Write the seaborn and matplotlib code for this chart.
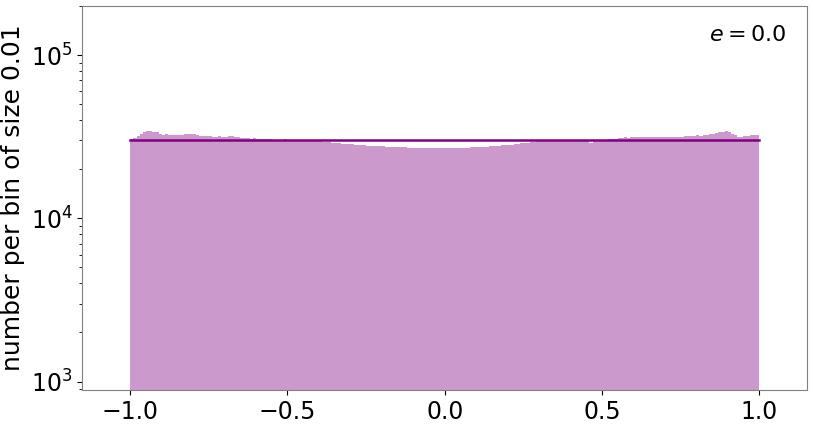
import numpy as np
import matplotlib
matplotlib.use("Agg")
import matplotlib.pyplot as plt
import seaborn as sns

# histogram of cos(theta) style values, 200 bins of width 0.01 on [-1, 1]
n_bins = 200
bin_centers = np.linspace(-0.995, 0.995, n_bins)

counts = [
    30500, 31200, 31900, 33000, 33800, 34500, 34300, 34000, 33600, 33000,
    32600, 32700, 32500, 32400, 32600, 32300, 32500, 32800, 33000, 32900,
    32700, 32400, 32100, 31900, 32000, 31800, 31700, 31600, 31800, 31500,
    31600, 31800, 31900, 31700, 31400, 31200, 31000, 30900, 30800, 30900,
    30700, 30600, 30700, 30500, 30600, 30400, 30400, 30300, 30400, 30500,
    30300, 30200, 30300, 30200, 30100, 30000, 30100, 30000, 29800, 29700,
    29600, 29400, 29300, 29200, 29000, 28900, 28800, 28700, 28600, 28500,
    28400, 28300, 28200, 28100, 28000, 27900, 27800, 27700, 27700, 27600,
    27600, 27500, 27400, 27400, 27300, 27300, 27200, 27200, 27100, 27100,
    27100, 27000, 27000, 27100, 27000, 26900, 27000, 27000, 26900, 27000,
    27000, 26900, 27000, 27000, 27100, 27000, 27100, 27100, 27200, 27200,
    27300, 27300, 27400, 27500, 27600, 27700, 27800, 27900, 28000, 28100,
    28200, 28300, 28500, 28600, 28800, 29000, 29100, 29300, 29500, 29600,
    29700, 29800, 29700, 29800, 29900, 29700, 29800, 29900, 29800, 29900,
    29600, 29800, 29900, 29800, 29700, 29800, 29100, 29800, 29900, 30000,
    30200, 30400, 30600, 30700, 30800, 31000, 31100, 31300, 31200, 31400,
    31300, 31500, 31400, 31300, 31500, 31400, 31300, 31400, 31500, 31300,
    31400, 31500, 31300, 31400, 31600, 31700, 31800, 31900, 32000, 32100,
    32300, 32100, 32300, 32500, 32800, 33000, 33400, 33700, 34000, 34200,
    33800, 33000, 32200, 31700, 31600, 31800, 32100, 32300, 32500, 32600,
]

expected = 30000  # flat expectation per bin
label_text = r"$e = 0.0$"

fig, ax = plt.subplots(figsize=(8.13, 4.26), dpi=100)
fig.subplots_adjust(left=0.101, right=0.993, top=0.986, bottom=0.085)

sns.histplot(x=bin_centers, weights=np.array(counts), bins=n_bins,
             binrange=(-1, 1), color="purple", alpha=0.4,
             edgecolor="none", linewidth=0, ax=ax)
ax.plot([-1, 1], [expected, expected], color="purple", lw=1.8)

ax.set_yscale("log")
ax.set_ylim(890, 2.0e5)
ax.set_xlim(-1.153, 1.153)
ax.set_xticks([-1.0, -0.5, 0.0, 0.5, 1.0])
ax.set_ylabel("number per bin of size 0.01", fontsize=18)
ax.tick_params(axis="both", which="major", labelsize=17)
for s in ax.spines.values():
    s.set_color("gray")

ax.text(0.971, 0.925, label_text, transform=ax.transAxes, ha="right",
        va="center", fontsize=16)

plt.savefig("out.png", dpi=100)
